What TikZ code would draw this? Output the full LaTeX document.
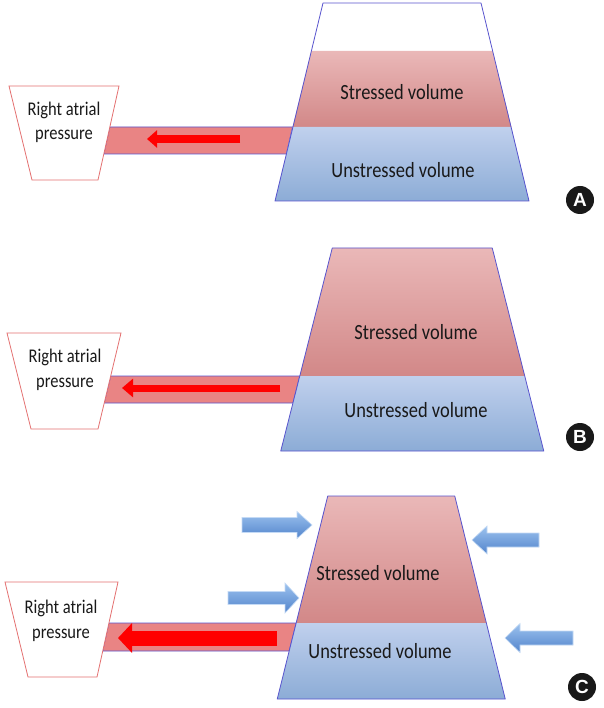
\documentclass[tikz,border=0pt]{standalone}
\usepackage{fontspec}
\usepackage{graphicx}
\setmainfont{Carlito}
\newfontfamily\badgefont{Liberation Sans}
\usetikzlibrary{calc, positioning, arrows.meta}

\definecolor{stresstop}{RGB}{234,184,184}
\definecolor{stressbot}{RGB}{210,136,136}
\definecolor{unstrtop}{RGB}{192,208,237}
\definecolor{unstrbot}{RGB}{140,172,214}
\definecolor{rimblue}{RGB}{88,84,206}
\definecolor{tubered}{RGB}{233,132,132}
\definecolor{raedge}{RGB}{228,112,112}
\definecolor{pushtop}{RGB}{156,194,238}
\definecolor{pushbot}{RGB}{82,132,204}

% taller, narrower lettering as in the figure
\newcommand{\tallword}[1]{\scalebox{0.97}[1.14]{#1}}

\tikzset{
  rim/.style={draw=rimblue, line width=0.8pt, line join=round},
  stressed/.style={top color=stresstop, bottom color=stressbot},
  unstressed/.style={top color=unstrtop, bottom color=unstrbot},
  tube/.style={fill=tubered, draw=rimblue, line width=0.8pt},
  rabox/.style={fill=white, draw=raedge, line width=0.8pt},
  ratext/.style={text=black!90, inner sep=0pt, anchor=base, font=\fontsize{17}{24}\selectfont},
  voltext/.style={text=black!90, font=\fontsize{19}{22}\selectfont},
  flow/.style={draw=red},
  pusharrow/.style={top color=pushtop, bottom color=pushbot, draw=pushtop!60!white, line width=0.6pt},
  badge/.style={circle, fill=black!90, text=white, inner sep=0pt, minimum size=28pt,
    font=\badgefont\bfseries\fontsize{19}{19}\selectfont}
}

\begin{document}
\begin{tikzpicture}[x=1pt, y=-1pt]
\useasboundingbox (0,0) rectangle (603,708);
\fill[white] (0,0) rectangle (603,708);

% panel A
\draw[tube] (109.8,127) -- (292.6,127) -- (286.4,154) -- (103.8,154) -- cycle;
\draw[rabox] (9,86) -- (119,86) -- (98,180) -- (32,180) -- cycle;
\node[ratext] (raA1) at (64,116) {\tallword{Right atrial}};
\node[ratext] (raA2) at (64,140) {\tallword{pressure}};
\fill[white] (323,3) -- (481,3) -- (492.6,51) -- (311.4,51) -- cycle;
\shade[stressed] (311.4,51) -- (492.6,51) -- (511.4,127) -- (292.6,127) -- cycle;
\shade[unstressed] (292.6,127) -- (511.4,127) -- (529,201) -- (275,201) -- cycle;
\draw[rim] (323,3) -- (481,3) -- (529,201) -- (275,201) -- cycle;
\coordinate (flowA0) at (240,139);
\coordinate (flowA1) at (147,139);
\draw[flow, line width=8pt, -{Triangle[length=10pt,width=17pt]}] (flowA0) -- (flowA1);
\node[voltext] (stressA) at (402,92) {\tallword{Stressed volume}};
\node[voltext] (unstressA) at (403,170) {\tallword{Unstressed volume}};
\node[badge] (badgeA) at (580,200) {A};

% panel B
\draw[tube] (110.7,376) -- (299.75,376) -- (293,403) -- (104.2,403) -- cycle;
\draw[rabox] (7,333) -- (121,333) -- (98,429) -- (31,429) -- cycle;
\node[ratext] (raB1) at (65,362) {\tallword{Right atrial}};
\node[ratext] (raB2) at (65,387) {\tallword{pressure}};
\shade[stressed] (332.25,248) -- (492.25,248) -- (524.75,376) -- (299.75,376) -- cycle;
\shade[unstressed] (299.75,376) -- (524.75,376) -- (543.75,451) -- (280.75,451) -- cycle;
\draw[rim] (332.25,248) -- (492.25,248) -- (543.75,451) -- (280.75,451) -- cycle;
\coordinate (flowB0) at (280,388);
\coordinate (flowB1) at (122,388);
\draw[flow, line width=7pt, -{Triangle[length=11pt,width=18pt]}] (flowB0) -- (flowB1);
\node[voltext] (stressB) at (416,332) {\tallword{Stressed volume}};
\node[voltext] (unstressB) at (416,410) {\tallword{Unstressed volume}};
\node[badge] (badgeB) at (580,437) {B};

% panel C
\draw[tube] (108.9,623) -- (296.15,623) -- (289.2,651) -- (102.7,651) -- cycle;
\draw[rabox] (5,582) -- (118,582) -- (97,677) -- (28,677) -- cycle;
\node[ratext] (raC1) at (61,613) {\tallword{Right atrial}};
\node[ratext] (raC2) at (61,638) {\tallword{pressure}};
\shade[stressed] (327.75,496) -- (454.75,496) -- (486.35,623) -- (296.15,623) -- cycle;
\shade[unstressed] (296.15,623) -- (486.35,623) -- (505.25,699) -- (277.25,699) -- cycle;
\draw[rim] (327.75,496) -- (454.75,496) -- (505.25,699) -- (277.25,699) -- cycle;
\coordinate (flowC0) at (277,638);
\coordinate (flowC1) at (118,638);
\draw[flow, line width=15pt, -{Triangle[length=14pt,width=29pt]}] (flowC0) -- (flowC1);
\node[voltext] (stressC) at (378,573) {\tallword{Stressed volume}};
\node[voltext] (unstressC) at (380,651) {\tallword{Unstressed volume}};
\node[badge] (badgeC) at (582,687) {C};
% squeezing arrows: tail / head base / tip / y / shaft / head
\foreach \xa/\xm/\xb/\y/\s/\h in {242/297/312/525/15/27, 228/285/299/598/13/30,
                                  539/487/472/540/14/28, 573/520/505/638/14/29}
  \shade[pusharrow] (\xa,{\y-\s/2}) -- (\xm,{\y-\s/2}) -- (\xm,{\y-\h/2}) -- (\xb,\y)
    -- (\xm,{\y+\h/2}) -- (\xm,{\y+\s/2}) -- (\xa,{\y+\s/2}) -- cycle;
\end{tikzpicture}
\end{document}
